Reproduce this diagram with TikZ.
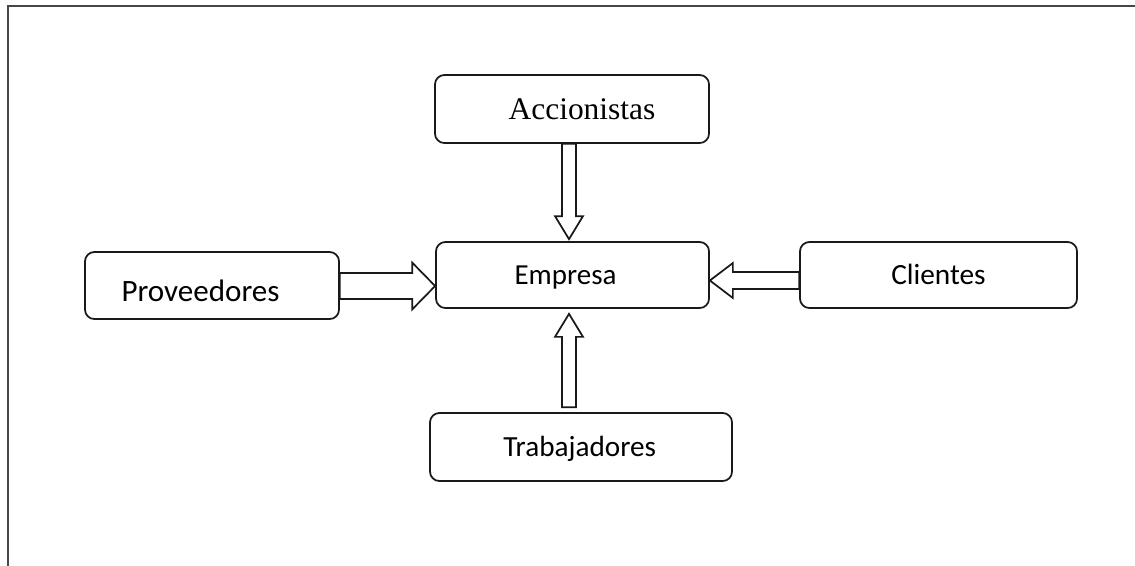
\documentclass[tikz,border=0pt]{standalone}
\usepackage{fontspec}
\setmainfont{Liberation Serif}
\newfontfamily\carl{Carlito}
\usetikzlibrary{calc}
\newdimen\px \px=0.75pt
\newcommand\tx[3]{\smash{\makebox[0pt]{\raisebox{#2}{\hspace*{#1}#3}}}}
% #1 shaft half width, #2 head half width, #3 start, #4 tip
\newcommand\blockarrow[4]{%
  \coordinate (ba-h) at ($(#4)!17.25pt!(#3)$);
  \filldraw[arr] ($(#3)!#1!90:(#4)$) -- ($(ba-h)!#1!90:(#4)$) -- ($(ba-h)!#2!90:(#4)$)
    -- (#4) -- ($(ba-h)!#2!-90:(#4)$) -- ($(ba-h)!#1!-90:(#4)$) -- ($(#3)!#1!-90:(#4)$) -- cycle;}
\tikzset{
  box/.style={draw=black!90, line width=1.3pt, rounded corners=7pt, fill=white, inner sep=0pt},
  arr/.style={draw=black!90, line width=1.3pt, fill=white, line join=miter},
  frame/.style={draw=black!72, line width=2.1pt}
}
\begin{document}
\begin{tikzpicture}[x=0.75pt, y=-0.75pt]
\useasboundingbox (0,0) rectangle (1135,565);
\coordinate (ftl) at (8,6);
\draw[frame] (8,567) -- (ftl) -- (1137,6);

\node[box, minimum width=274\px, minimum height=68\px] (acc) at (572,109)
  {\fontsize{23.6}{28}\selectfont\tx{15pt}{-7.8pt}{Accionistas}};
\node[box, minimum width=273\px, minimum height=66\px] (emp) at (572.5,275)
  {\carl\fontsize{21.75}{26}\selectfont\tx{-10.5pt}{-6.9pt}{Empresa}};
\node[box, minimum width=254\px, minimum height=67\px] (prov) at (212,285.5)
  {\carl\fontsize{23.3}{28}\selectfont\tx{-17.2pt}{-12.3pt}{Proveedores}};
\node[box, minimum width=277\px, minimum height=66\px] (cli) at (938.5,275)
  {\carl\fontsize{22}{26}\selectfont\tx{0pt}{-7pt}{Clientes}};
\node[box, minimum width=302\px, minimum height=68\px] (trab) at (581,447)
  {\carl\fontsize{21.9}{26}\selectfont\tx{-2pt}{-6.9pt}{Trabajadores}};

\coordinate (a1) at ($(acc.south)+(-3,0)$);
\coordinate (a2) at ($(emp.north)+(-3.5,-2)$);
\blockarrow{5.25pt}{10.5pt}{a1}{a2}

\coordinate (b1) at ($(trab.north)+(-12,-5)$);
\coordinate (b2) at ($(emp.south)+(-3.5,5)$);
\blockarrow{5.25pt}{10.5pt}{b1}{b2}

\coordinate (c1) at ($(prov.east)+(0,0.5)$);
\coordinate (c2) at (c1 -| emp.west);
\blockarrow{9.75pt}{17.6pt}{c1}{c2}

\coordinate (d1) at ($(cli.west)+(0,5.5)$);
\coordinate (d2) at (d1 -| emp.east);
\blockarrow{6.4pt}{13.1pt}{d1}{d2}
\end{tikzpicture}
\end{document}
